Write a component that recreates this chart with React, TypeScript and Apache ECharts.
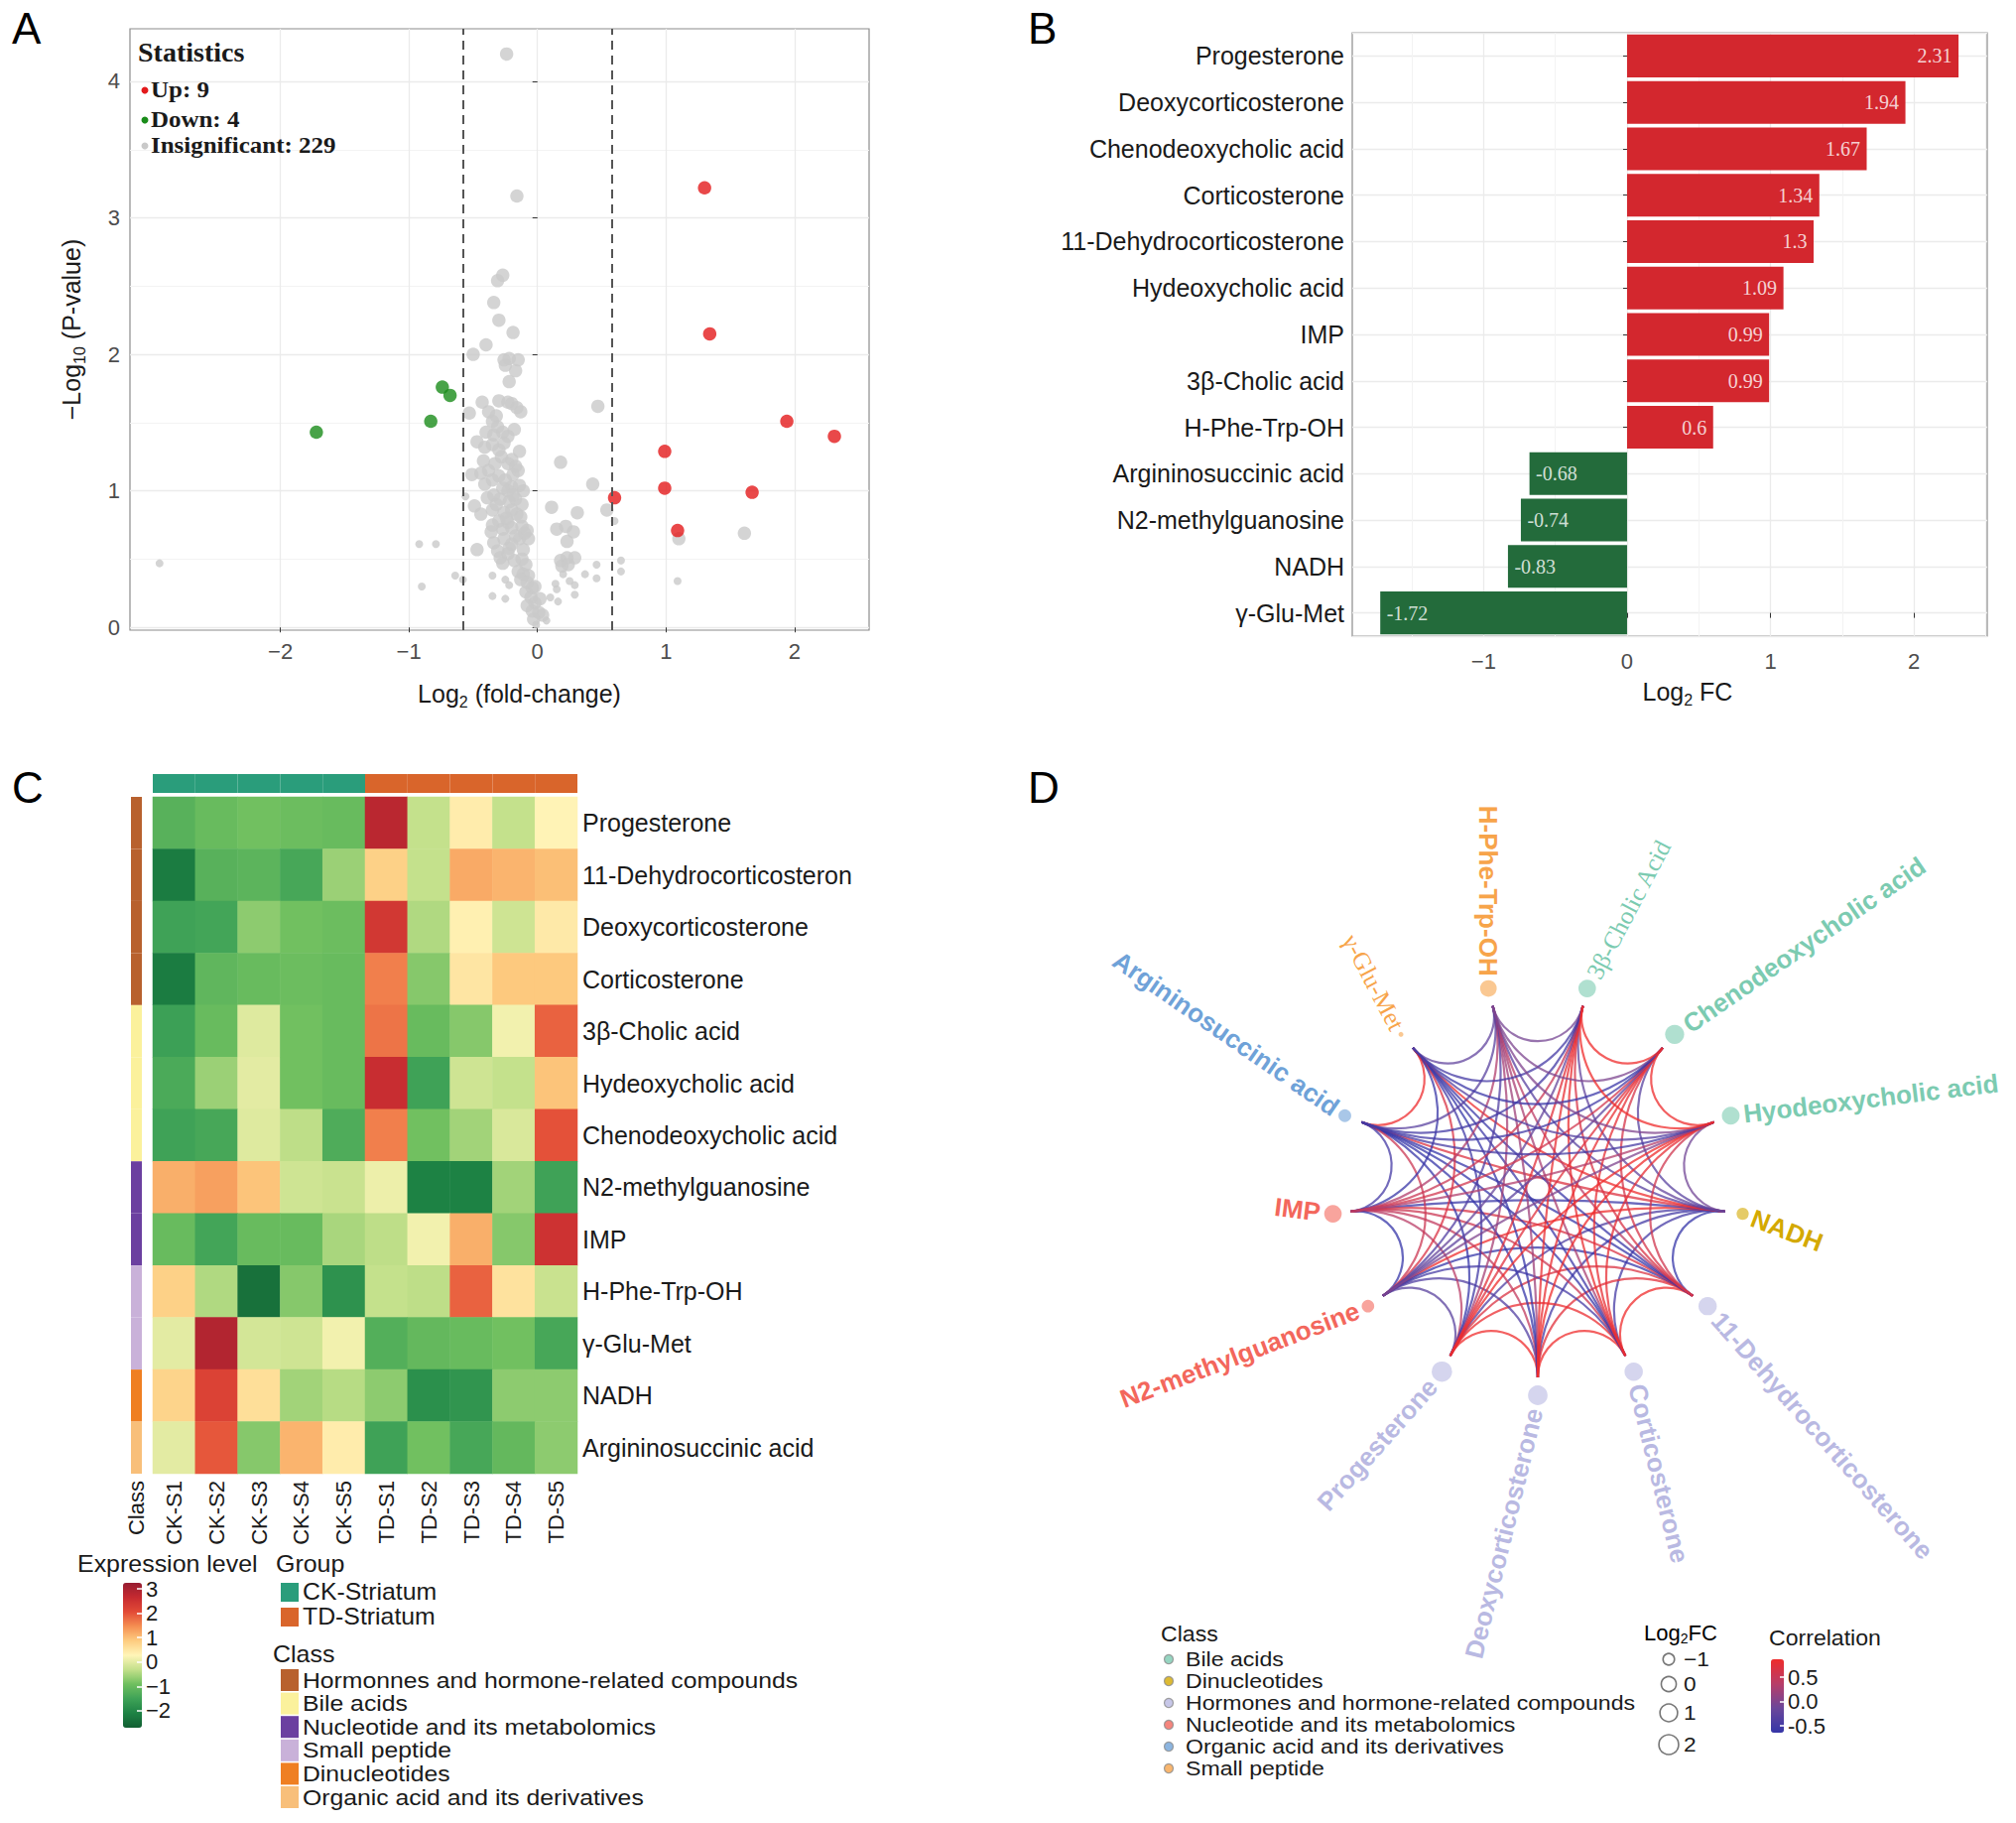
import React, { useEffect, useRef } from 'react';
import * as echarts from 'echarts';

const SANS = '"Liberation Sans", Arial, Helvetica, sans-serif';
const SERIF = '"Liberation Serif", "Times New Roman", Times, serif';

// ---------------- Panel A : volcano plot ----------------
const volcanoUp: number[][] = [
  [2.31, 1.40], [1.94, 1.51], [1.67, 0.99], [1.34, 2.15], [1.30, 3.22],
  [1.09, 0.71], [0.99, 1.29], [0.99, 1.02], [0.60, 0.95],
];
const volcanoDown: number[][] = [[-0.68, 1.70], [-0.74, 1.76], [-0.83, 1.51], [-1.72, 1.43]];
const volcanoGrayLarge: number[][] = [
  [-0.24, 4.20], [-0.16, 3.16], [-0.27, 2.58], [-0.31, 2.54], [-0.34, 2.38], [-0.30, 2.25], [-0.19, 2.16],
  [-0.40, 2.07], [-0.50, 2.00], [-0.26, 1.96], [-0.22, 1.97], [-0.15, 1.96], [-0.25, 1.92], [-0.17, 1.88],
  [-0.22, 1.80], [-0.43, 1.65], [-0.30, 1.66], [-0.23, 1.65], [-0.20, 1.64], [-0.16, 1.61], [-0.13, 1.58],
  [-0.53, 1.57], [-0.38, 1.58], [-0.32, 1.55], [-0.35, 1.51], [-0.31, 1.47], [-0.40, 1.43], [0.47, 1.62],
  [-0.27, 1.43], [-0.23, 1.40], [-0.34, 1.41], [-0.47, 1.36], [-0.41, 1.32], [-0.35, 1.34], [-0.30, 1.30],
  [-0.26, 1.35], [-0.14, 1.29], [-0.20, 1.23], [-0.23, 1.20], [-0.17, 1.18], [0.18, 1.21], [-0.51, 1.12],
  [-0.44, 1.13], [-0.38, 1.15], [-0.41, 1.05], [-0.35, 1.08], [-0.30, 1.11], [-0.25, 1.08], [-0.20, 1.03],
  [-0.14, 1.04], [-0.11, 1.00], [-0.23, 1.00], [0.43, 1.05], [-0.34, 0.97], [-0.29, 0.94], [-0.22, 0.92],
  [-0.17, 0.94], [-0.12, 0.90], [-0.49, 0.89], [-0.44, 0.83], [-0.35, 0.86], [-0.26, 0.84], [-0.20, 0.86],
  [-0.16, 0.83], [0.11, 0.88], [0.31, 0.84], [0.54, 0.86], [-0.35, 0.75], [-0.30, 0.78], [-0.23, 0.77],
  [-0.20, 0.73], [-0.12, 0.74], [-0.08, 0.71], [-0.27, 0.72], [0.15, 0.72], [0.22, 0.74], [0.28, 0.70],
  [0.23, 0.63], [-0.34, 0.62], [-0.26, 0.65], [-0.20, 0.61], [-0.14, 0.65], [-0.07, 0.65], [-0.11, 0.57],
  [-0.47, 0.57], [1.10, 0.65], [1.61, 0.69], [-0.29, 0.51], [-0.23, 0.54], [-0.18, 0.49], [-0.12, 0.50],
  [-0.27, 0.47], [0.18, 0.49], [0.23, 0.51], [0.29, 0.51], [0.19, 0.45], [0.24, 0.46], [-0.15, 0.41],
  [-0.11, 0.39], [-0.07, 0.38], [-0.13, 0.35], [-0.08, 0.33], [-0.04, 0.29], [-0.09, 0.26], [-0.05, 0.22],
  [-0.02, 0.18], [-0.08, 0.16], [-0.04, 0.12], [0.01, 0.11], [0.04, 0.09], [-0.03, 0.06], [-0.18, 1.45],
  [-0.28, 1.25], [-0.33, 1.20], [-0.19, 1.12], [-0.15, 1.15], [-0.27, 1.02], [-0.32, 0.90], [-0.19, 0.97],
  [-0.13, 0.81], [-0.24, 0.80], [-0.39, 0.95], [-0.42, 1.22], [-0.10, 0.69], [-0.17, 0.67], [-0.22, 0.58],
  [-0.31, 0.56], [-0.36, 0.70], [-0.09, 0.46], [-0.02, 0.30], [0.02, 0.21],
];
const volcanoGraySmall: number[][] = [
  [-2.94, 0.47], [-0.92, 0.61], [-0.79, 0.61], [-0.56, 0.96], [0.60, 0.78], [0.46, 0.46], [0.65, 0.49],
  [0.65, 0.41], [-0.64, 0.38], [-0.58, 0.35], [-0.90, 0.30], [-0.35, 0.38], [-0.25, 0.35], [-0.22, 0.31],
  [-0.35, 0.23], [-0.25, 0.21], [0.14, 0.32], [0.15, 0.28], [0.10, 0.22], [0.16, 0.19], [0.20, 0.39],
  [0.25, 0.34], [0.29, 0.31], [0.29, 0.24], [0.37, 0.39], [0.46, 0.36], [1.09, 0.34], [0.07, 0.05], [-0.01, 0.02],
];
const foldThreshold = 0.585;
const statsNames = ['Up', 'Down', 'Insignificant'];
const statsCounts = [9, 4, 229];
const volcanoXTicks = [-2, -1, 0, 1, 2];
const volcanoYTicks = [0, 1, 2, 3, 4];

// ---------------- Panel B : log2FC bars ----------------
const barNames = [
  'Progesterone', 'Deoxycorticosterone', 'Chenodeoxycholic acid', 'Corticosterone', '11-Dehydrocorticosterone',
  'Hydeoxycholic acid', 'IMP', '3β-Cholic acid', 'H-Phe-Trp-OH', 'Argininosuccinic acid', 'N2-methylguanosine',
  'NADH', 'γ-Glu-Met',
];
const barValues = [2.31, 1.94, 1.67, 1.34, 1.3, 1.09, 0.99, 0.99, 0.6, -0.68, -0.74, -0.83, -1.72];
const barXTicks = [-1, 0, 1, 2];

// ---------------- Panel C : heatmap ----------------
const samples = ['CK-S1', 'CK-S2', 'CK-S3', 'CK-S4', 'CK-S5', 'TD-S1', 'TD-S2', 'TD-S3', 'TD-S4', 'TD-S5'];
const sampleGroup = [0, 0, 0, 0, 0, 1, 1, 1, 1, 1];
const groupNames = ['CK-Striatum', 'TD-Striatum'];
const groupColors = ['#2a9d7b', '#d9652b'];
const heatRows = [
  'Progesterone', '11-Dehydrocorticosteron', 'Deoxycorticosterone', 'Corticosterone', '3β-Cholic acid',
  'Hydeoxycholic acid', 'Chenodeoxycholic acid', 'N2-methylguanosine', 'IMP', 'H-Phe-Trp-OH', 'γ-Glu-Met',
  'NADH', 'Argininosuccinic acid',
];
const heatValues: number[][] = [
  [-1.2, -1.0, -0.9, -0.95, -1.0, 2.8, -0.3, 0.4, -0.3, 0.3],
  [-2.2, -1.2, -1.15, -1.4, -0.6, 0.8, -0.3, 1.2, 1.1, 1.0],
  [-1.5, -1.45, -0.7, -0.9, -0.95, 2.4, -0.45, 0.35, -0.2, 0.45],
  [-2.2, -1.1, -1.0, -0.95, -1.0, 1.6, -0.75, 0.5, 0.9, 0.9],
  [-1.55, -1.0, -0.05, -0.9, -1.0, 1.7, -1.0, -0.75, 0.15, 1.85],
  [-1.35, -0.6, 0.0, -0.9, -1.0, 2.6, -1.5, -0.2, -0.3, 0.95],
  [-1.5, -1.4, -0.05, -0.35, -1.3, 1.6, -0.9, -0.55, -0.1, 2.0],
  [1.15, 1.3, 0.95, -0.2, -0.25, 0.1, -2.1, -2.1, -0.55, -1.5],
  [-1.0, -1.45, -1.0, -1.0, -0.5, -0.35, 0.15, 1.15, -0.75, 2.5],
  [0.8, -0.45, -2.4, -0.75, -1.8, -0.3, -0.35, 1.85, 0.55, -0.25],
  [0.0, 2.9, -0.15, -0.2, 0.15, -1.25, -1.05, -1.0, -0.9, -1.4],
  [0.75, 2.2, 0.6, -0.55, -0.4, -0.7, -1.85, -1.75, -0.7, -0.7],
  [0.0, 1.95, -0.75, 1.1, 0.4, -1.5, -0.9, -1.4, -1.05, -0.7],
];
const heatRowClass = [0, 0, 0, 0, 1, 1, 1, 2, 2, 3, 3, 4, 5];
const heatClassNames = [
  'Hormonnes and hormone-related compounds', 'Bile acids', 'Nucleotide and its metabolomics',
  'Small peptide', 'Dinucleotides', 'Organic acid and its derivatives',
];
const heatClassColors = ['#b8612e', '#fbf19c', '#6b3fa0', '#c9b1d9', '#ef7f22', '#f8bf7a'];
const exprMin = -2.7;
const exprMax = 3.25;
const exprTicks = [-2, -1, 0, 1, 2, 3];
const exprColors = ['#125f32', '#1d8244', '#3ea257', '#6fbf5f', '#c2e08a', '#fff5b8', '#fdcc80', '#f58f52', '#e24a36', '#c52a30', '#961d31'];

// ---------------- Panel D : correlation network ----------------
const netNodes = [
  'NADH', '11-Dehydrocorticosterone', 'Corticosterone', 'Deoxycorticosterone', 'Progesterone',
  'N2-methylguanosine', 'IMP', 'Argininosuccinic acid', 'γ-Glu-Met', 'H-Phe-Trp-OH', '3β-Cholic Acid',
  'Chenodeoxycholic acid', 'Hyodeoxycholic acid',
];
const netClass = [1, 2, 2, 2, 2, 3, 3, 4, 5, 5, 0, 0, 0];
const netLog2FC = [-0.83, 1.3, 1.34, 1.94, 2.31, -0.74, 0.99, -0.68, -1.72, 0.6, 0.99, 1.67, 1.09];
const netHeatRow = [11, 1, 3, 2, 0, 7, 8, 12, 10, 9, 4, 6, 5];
const netSerifLabel = [false, false, false, false, false, false, false, false, true, false, true, false, false];
const netClassNames = [
  'Bile acids', 'Dinucleotides', 'Hormones and hormone-related compounds',
  'Nucleotide and its metabolomics', 'Organic acid and its derivatives', 'Small peptide',
];
const netClassColors = ['#7ccbb1', '#d4a900', '#b9b9e2', '#f3675c', '#6fa2d8', '#f7a44a'];
const sizeLegendValues = [-1, 0, 1, 2];
const corrMin = -0.64;
const corrMax = 0.87;
const corrTicks = [-0.5, 0, 0.5];
const corrColors = ['#3535a8', '#6b479a', '#b83d68', '#ef2b2b'];

// ---------- derived tables ----------
function pearson(a: number[], b: number[]) {
  const n = a.length;
  const ma = a.reduce((s, v) => s + v, 0) / n;
  const mb = b.reduce((s, v) => s + v, 0) / n;
  let sab = 0, saa = 0, sbb = 0;
  for (let k = 0; k < n; k++) {
    sab += (a[k] - ma) * (b[k] - mb);
    saa += (a[k] - ma) * (a[k] - ma);
    sbb += (b[k] - mb) * (b[k] - mb);
  }
  return sab / Math.sqrt(saa * sbb);
}
const netEdges: number[][] = [];
for (let i = 0; i < netNodes.length; i++) {
  for (let j = i + 1; j < netNodes.length; j++) {
    netEdges.push([i, j, +pearson(heatValues[netHeatRow[i]], heatValues[netHeatRow[j]]).toFixed(3)]);
  }
}
const fcMin = Math.min(...netLog2FC);
const fcMax = Math.max(...netLog2FC);
const nodeSize = (v: number) => 5 + 15.5 * Math.sqrt(Math.max(0, (v - fcMin) / (fcMax - fcMin)));

const heatData: number[][] = [];
heatValues.forEach((row, r) => row.forEach((v, c) => heatData.push([c, r, v])));

const minus = (v: number) => (v < 0 ? '\u2212' + String(Math.abs(v)) : String(v));

// ---------- styles ----------
const W = 2032;
const H = 1837;
const TXT = '#1a1a1a';
const TICK = '#4d4d4d';
const GRIDLINE = '#ebebeb';
const RED = '#e31a1c';
const GREEN = '#1a8c1a';
const BAR_RED = '#d3272e';
const BAR_GREEN = '#236b3b';
const R_EDGE = 0.913;

const subRich = (size: number, pad = 16) => ({
  a: { fontSize: size, color: TXT, fontFamily: SANS },
  s: { fontSize: Math.round(size * 0.62), color: TXT, fontFamily: SANS, verticalAlign: 'bottom', padding: [pad, 0, 0, 0] },
});

const norm = (a: number) => {
  let d = a;
  while (d > Math.PI) d -= 2 * Math.PI;
  while (d <= -Math.PI) d += 2 * Math.PI;
  return d;
};

function buildGraphic() {
  const el: any[] = [];
  const T = (x: number, y: number, text: string, size: number, extra: any = {}, sx = 1) =>
    el.push({ type: 'text', x, y, z: 100, scaleX: sx, style: { text, fontSize: size, fontFamily: SANS, fill: TXT, verticalAlign: 'middle', ...extra } });

  const letters: [string, number, number][] = [['A', 12, 6], ['B', 1036, 6], ['C', 12, 771], ['D', 1036, 771]];
  letters.forEach(([t, x, y]) =>
    el.push({ type: 'text', x, y, z: 100, style: { text: t, fontSize: 44, fontFamily: SANS, fill: '#000', verticalAlign: 'top' } }));

  // Statistics legend (panel A)
  T(139, 52, 'Statistics', 28, { fontWeight: 'bold', fontFamily: SERIF });
  const statColors = [RED, GREEN, '#c9c9c9'];
  const statY = [90, 120, 146];
  statsNames.forEach((n, i) => {
    el.push({ type: 'circle', z: 100, shape: { cx: 146, cy: statY[i] + 1, r: 3.5 }, style: { fill: statColors[i] } });
    T(152, statY[i], `${n}: ${statsCounts[i]}`, 24, { fontWeight: 'bold', fontFamily: SERIF }, 1.04);
  });

  // Panel C legends
  T(78, 1576, 'Expression level', 24, {}, 1.04);
  T(278, 1576, 'Group', 24, {}, 1.04);
  groupNames.forEach((g, i) => {
    const cy = 1604 + i * 25;
    el.push({ type: 'rect', z: 100, shape: { x: 283, y: cy - 9, width: 18, height: 19 }, style: { fill: groupColors[i] } });
    T(305, cy, g, 23, {}, 1.08);
  });
  T(275, 1667, 'Class', 24, {}, 1.04);
  heatClassNames.forEach((c, i) => {
    const cy = 1693 + i * 23.6;
    el.push({ type: 'rect', z: 100, shape: { x: 283, y: cy - 11, width: 18, height: 22 }, style: { fill: heatClassColors[i] } });
    T(305, cy, c, 22.5, {}, 1.1);
  });

  // Panel D legends
  T(1170, 1647, 'Class', 22, {}, 1.05);
  netClassNames.forEach((c, i) => {
    const cy = 1672 + i * 22;
    el.push({ type: 'circle', z: 100, shape: { cx: 1178, cy, r: 4.5 }, style: { fill: netClassColors[i], opacity: 0.8, stroke: '#8a8a8a', lineWidth: 1.2 } });
    T(1195, cy, c, 21, {}, 1.1);
  });
  el.push({ type: 'text', x: 1694, y: 1645, z: 100, style: { text: '{a|Log}{s|2}{a|FC}', rich: subRich(22, 12), align: 'center', verticalAlign: 'middle' } });
  const sizeY = [1672, 1697, 1726, 1758];
  sizeLegendValues.forEach((v, i) => {
    el.push({ type: 'circle', z: 100, shape: { cx: 1682, cy: sizeY[i], r: nodeSize(v) / 2 }, style: { fill: 'none', stroke: '#777', lineWidth: 1.6 } });
    T(1697, sizeY[i], minus(v), 21, {}, 1.08);
  });
  T(1783, 1651, 'Correlation', 22, {}, 1.05);
  return el;
}

function buildOption() {
  const hiddenAxis = { show: false };
  const option: any = {
    animation: false,
    backgroundColor: '#ffffff',
    textStyle: { fontFamily: SANS },
    grid: [
      { left: 131, top: 29, width: 745, height: 606, show: true, borderColor: '#8c8c8c', borderWidth: 1.2 },
      { left: 1363, top: 33, width: 640, height: 608, show: true, borderColor: '#8c8c8c', borderWidth: 1.2 },
      { left: 154, top: 803, width: 428, height: 682 },
      { left: 154, top: 780, width: 428, height: 19 },
      { left: 132, top: 803, width: 11, height: 682 },
      { left: 124, top: 1595, width: 19, height: 146 },
      { left: 1785, top: 1672, width: 13, height: 74 },
    ],
    xAxis: [
      {
        type: 'value', gridIndex: 0, min: -3.17, max: 2.58,
        axisLine: { show: false },
        axisTick: { show: true, length: 5, customValues: volcanoXTicks, lineStyle: { color: '#333' } },
        axisLabel: { customValues: volcanoXTicks, fontSize: 22, color: TICK, margin: 10, formatter: minus },
        splitLine: { show: true, lineStyle: { color: GRIDLINE, width: 1.3 } },
        name: '{a|Log}{s|2}{a| (fold-change)}', nameLocation: 'middle', nameGap: 48,
        nameTextStyle: { rich: subRich(25), padding: [0, 0, 0, 40] },
      },
      {
        type: 'value', gridIndex: 1, min: -1.915, max: 2.51,
        axisLine: { show: false },
        axisTick: { show: true, length: 5, customValues: barXTicks, lineStyle: { color: '#333' } },
        axisLabel: { customValues: barXTicks, fontSize: 22, color: TICK, margin: 14, formatter: minus },
        splitLine: { show: true, lineStyle: { color: GRIDLINE, width: 1.3 } },
        minorTick: { show: false, splitNumber: 2 },
        minorSplitLine: { show: true, lineStyle: { color: '#f3f3f3', width: 1 } },
        name: '{a|Log}{s|2}{a| FC}', nameLocation: 'middle', nameGap: 40,
        nameTextStyle: { rich: subRich(25), padding: [0, 0, 0, 36] },
      },
      {
        type: 'category', gridIndex: 2, data: samples, position: 'bottom',
        axisLine: { show: false }, axisTick: { show: false },
        axisLabel: { rotate: 90, fontSize: 22, color: TXT, margin: 7 },
      },
      { type: 'category', gridIndex: 3, data: samples, ...hiddenAxis },
      { type: 'value', gridIndex: 4, min: 0, max: 1, position: 'top', ...hiddenAxis },
      {
        type: 'category', gridIndex: 4, data: ['Class'], position: 'bottom',
        axisLine: { show: false }, axisTick: { show: false },
        axisLabel: { rotate: 90, fontSize: 22, color: TXT, margin: 7 },
      },
      { type: 'category', gridIndex: 5, data: [''], ...hiddenAxis },
      { type: 'category', gridIndex: 6, data: [''], ...hiddenAxis },
    ],
    yAxis: [
      {
        type: 'value', gridIndex: 0, min: -0.02, max: 4.385,
        axisLine: { show: false },
        axisTick: { show: true, length: 5, customValues: volcanoYTicks, lineStyle: { color: '#333' } },
        axisLabel: { customValues: volcanoYTicks, fontSize: 22, color: TICK, margin: 10 },
        splitLine: { show: true, lineStyle: { color: GRIDLINE, width: 1.3 } },
        minorTick: { show: false, splitNumber: 2 },
        minorSplitLine: { show: true, lineStyle: { color: '#f3f3f3', width: 1 } },
        name: '{a|\u2212Log}{s|10}{a| (P-value)}', nameLocation: 'middle', nameRotate: 90, nameGap: 43,
        nameTextStyle: { rich: subRich(25) },
      },
      {
        type: 'category', gridIndex: 1, data: barNames, inverse: true,
        axisLine: { show: false },
        axisTick: { show: true, length: 4, alignWithLabel: true, lineStyle: { color: '#333' } },
        axisLabel: { fontSize: 25, color: TXT, margin: 8 },
        splitLine: { show: false },
      },
      {
        type: 'value', gridIndex: 1, min: -0.5, max: barNames.length - 0.5, splitNumber: barNames.length,
        position: 'right', axisLine: { show: false }, axisTick: { show: false }, axisLabel: { show: false },
        splitLine: { show: true, lineStyle: { color: GRIDLINE, width: 1.3 } },
      },
      {
        type: 'category', gridIndex: 2, data: heatRows, inverse: true, position: 'right',
        axisLine: { show: false }, axisTick: { show: false },
        axisLabel: { fontSize: 25, color: TXT, margin: 5 },
      },
      { type: 'value', gridIndex: 3, min: 0, max: 1, ...hiddenAxis },
      { type: 'category', gridIndex: 4, data: heatRows, inverse: true, ...hiddenAxis },
      {
        type: 'value', gridIndex: 5, min: exprMin, max: exprMax, position: 'right', z: 10,
        axisLine: { show: false },
        axisTick: { show: true, inside: true, length: 5, customValues: exprTicks, lineStyle: { color: '#ffffff', width: 1.5 } },
        axisLabel: { customValues: exprTicks, fontSize: 22, color: TXT, margin: 4, formatter: minus },
        splitLine: { show: false },
      },
      {
        type: 'value', gridIndex: 6, min: corrMin, max: corrMax, position: 'right', z: 10,
        axisLine: { show: false },
        axisTick: { show: true, inside: true, length: 4, customValues: corrTicks, lineStyle: { color: '#ffffff', width: 1.5 } },
        axisLabel: { customValues: corrTicks, fontSize: 22, color: TXT, margin: 4, formatter: (v: number) => v.toFixed(1) },
        splitLine: { show: false },
      },
    ],
    polar: { center: [1550, 1198], radius: 208 },
    angleAxis: {
      type: 'category', data: netNodes, startAngle: 360 / netNodes.length / 4, boundaryGap: true,
      show: false, axisLine: { show: false }, splitLine: { show: false }, axisLabel: { show: false }, axisTick: { show: false },
    },
    radiusAxis: { type: 'value', min: 0, max: 1, show: false, splitLine: { show: false } },
    visualMap: [
      {
        type: 'continuous', seriesIndex: 6, dimension: 2, min: exprMin, max: exprMax,
        left: 124, top: 1595, itemWidth: 19, itemHeight: 146, padding: 0, calculable: false,
        hoverLink: false, inRange: { color: exprColors },
      },
      {
        type: 'continuous', seriesIndex: 9, dimension: 2, min: corrMin, max: corrMax,
        left: 1785, top: 1672, itemWidth: 13, itemHeight: 74, padding: 0, calculable: false,
        hoverLink: false, inRange: { color: corrColors },
      },
    ],
    graphic: { elements: buildGraphic() },
    series: [
      // 0-3 volcano
      { type: 'scatter', xAxisIndex: 0, yAxisIndex: 0, data: volcanoGrayLarge, symbolSize: 13.5, itemStyle: { color: '#c9c9c9' }, silent: true },
      { type: 'scatter', xAxisIndex: 0, yAxisIndex: 0, data: volcanoGraySmall, symbolSize: 8, itemStyle: { color: '#c9c9c9' }, silent: true },
      { type: 'scatter', xAxisIndex: 0, yAxisIndex: 0, data: volcanoDown, symbolSize: 13.5, itemStyle: { color: GREEN }, silent: true },
      {
        type: 'scatter', xAxisIndex: 0, yAxisIndex: 0, data: volcanoUp, symbolSize: 13.5, itemStyle: { color: RED }, silent: true,
        markLine: {
          silent: true, symbol: ['none', 'none'], label: { show: false },
          lineStyle: { type: [9, 6], color: '#555', width: 2 },
          data: [{ xAxis: -foldThreshold }, { xAxis: foldThreshold }],
        },
      },
      // 4-5 bars
      {
        type: 'bar', xAxisIndex: 1, yAxisIndex: 1, barCategoryGap: '8%', silent: true,
        data: barValues.map((v) => ({ value: v, itemStyle: { color: v > 0 ? BAR_RED : BAR_GREEN } })),
      },
      {
        type: 'scatter', xAxisIndex: 1, yAxisIndex: 1, symbolSize: 1, silent: true, z: 5,
        itemStyle: { color: 'rgba(0,0,0,0)' },
        data: barValues.map((v, i) => ({ value: [v, i], label: { position: v > 0 ? 'left' : 'right' } })),
        label: {
          show: true, distance: 6, color: '#ffffff', fontFamily: SERIF, fontSize: 20,
          formatter: (p: any) => String(barValues[p.dataIndex]),
        },
      },
      // 6 heatmap
      {
        type: 'heatmap', xAxisIndex: 2, yAxisIndex: 3, data: heatData, silent: true,
        itemStyle: { borderWidth: 0 }, emphasis: { disabled: true },
      },
      // 7 group bar
      {
        type: 'bar', xAxisIndex: 3, yAxisIndex: 4, barCategoryGap: '0%', silent: true,
        data: samples.map((_, i) => ({ value: 1, itemStyle: { color: groupColors[sampleGroup[i]] } })),
      },
      // 8 class bar
      {
        type: 'bar', xAxisIndex: 4, yAxisIndex: 5, barCategoryGap: '0%', silent: true,
        data: heatRowClass.map((c) => ({ value: 1, itemStyle: { color: heatClassColors[c] } })),
      },
      // 9 network edges: arcs orthogonal to the node circle
      {
        type: 'custom', coordinateSystem: 'polar', polarIndex: 0, data: netEdges, silent: true, z: 2,
        renderItem: (params: any, api: any) => {
          const i = api.value(0);
          const j = api.value(1);
          const a = api.coord([R_EDGE, i]);
          const b = api.coord([R_EDGE, j]);
          const c = api.coord([0, i]);
          const R = Math.hypot(a[0] - c[0], a[1] - c[1]);
          const angA = Math.atan2(a[1] - c[1], a[0] - c[0]);
          const angB = Math.atan2(b[1] - c[1], b[0] - c[0]);
          const d = norm(angB - angA);
          const theta = Math.abs(d);
          const bis = angA + d / 2;
          const dist = R / Math.cos(theta / 2);
          const rr = R * Math.tan(theta / 2);
          const ox = c[0] + dist * Math.cos(bis);
          const oy = c[1] + dist * Math.sin(bis);
          const sA = Math.atan2(a[1] - oy, a[0] - ox);
          const sB = Math.atan2(b[1] - oy, b[0] - ox);
          const e = norm(sB - sA);
          return {
            type: 'arc',
            shape: { cx: ox, cy: oy, r: rr, startAngle: sA, endAngle: sA + e, clockwise: e > 0 },
            style: { stroke: api.visual('color'), lineWidth: 2.2, fill: 'none', opacity: 0.75 },
          };
        },
      },
      // 10 network nodes
      {
        type: 'scatter', coordinateSystem: 'polar', polarIndex: 0, silent: true, z: 3,
        data: netNodes.map((_, i) => ({
          value: [1, i], symbolSize: nodeSize(netLog2FC[i]),
          itemStyle: { color: netClassColors[netClass[i]], opacity: 0.6 },
        })),
      },
      // 11 network labels
      {
        type: 'custom', coordinateSystem: 'polar', polarIndex: 0, silent: true, z: 4,
        data: netNodes.map((_, i) => [1, i]),
        renderItem: (params: any, api: any) => {
          const idx = params.dataIndex;
          const p = api.coord([1, idx]);
          const c = api.coord([0, idx]);
          const phi = Math.atan2(p[1] - c[1], p[0] - c[0]);
          const left = Math.cos(phi) < 1e-6;
          const rot = left ? phi - Math.PI : phi;
          const textAng = rot + Math.PI / netNodes.length;
          const outward = left ? textAng + Math.PI : textAng;
          const off = nodeSize(netLog2FC[idx]) / 2 + 4;
          const serif = netSerifLabel[idx];
          return {
            type: 'text',
            x: p[0] + off * Math.cos(outward),
            y: p[1] + off * Math.sin(outward),
            rotation: -textAng,
            style: {
              text: netNodes[idx],
              fill: netClassColors[netClass[idx]],
              fontSize: serif ? 25 : 26,
              fontWeight: serif ? 'normal' : 'bold',
              fontFamily: serif ? SERIF : SANS,
              align: left ? 'right' : 'left',
              verticalAlign: 'middle',
            },
          };
        },
      },
    ],
  };
  return option;
}

export default function App() {
  const ref = useRef<HTMLDivElement>(null);
  useEffect(() => {
    if (!ref.current) return;
    const chart = echarts.init(ref.current, null, { renderer: 'svg', width: W, height: H });
    chart.setOption(buildOption());
    return () => chart.dispose();
  }, []);
  return (
    <div
      ref={ref}
      style={{ position: 'absolute', left: 0, top: 0, width: W, height: H, background: '#ffffff' }}
    />
  );
}
